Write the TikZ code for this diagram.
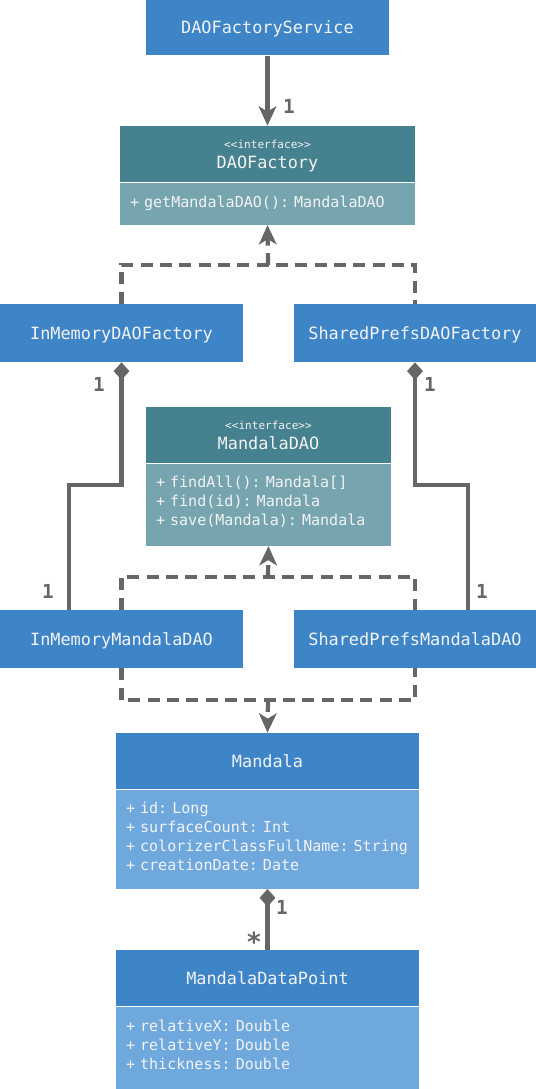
\documentclass[tikz,border=0pt]{standalone}
\usepackage{fontspec}
\setmonofont{DejaVu Sans Mono}
\usetikzlibrary{arrows.meta}
\definecolor{classblue}{HTML}{3D85C6}
\definecolor{fieldblue}{HTML}{6FA8DC}
\definecolor{ifaceteal}{HTML}{45818E}
\definecolor{methodteal}{HTML}{76A5AF}
\definecolor{linegray}{HTML}{666666}
\definecolor{labelwhite}{HTML}{F3F3F3}
\def\namefont{\ttfamily\fontsize{9.6}{11}\selectfont}
\def\memberfont{\ttfamily\frenchspacing\fontsize{8.57}{10.8}\selectfont}
\def\stereo#1{{\ttfamily\fontsize{6.3}{7}\selectfont #1}}
\tikzset{
	classhead/.style={fill=classblue, text=labelwhite, font=\namefont, align=center, inner sep=0pt, minimum width=#1, minimum height=1.12cm, text height=7pt, text depth=0pt},
	ifacehead/.style={fill=ifaceteal, text=labelwhite, font=\namefont, align=center, inner sep=0pt, minimum width=#1, minimum height=1.12cm, text depth=-1.1pt},
	classbody/.style={fill=fieldblue, text=labelwhite, font=\memberfont, align=left, inner ysep=0pt, inner xsep=0.2cm, text width=#1, anchor=north},
	ifacebody/.style={classbody=#1, fill=methodteal},
	link/.style={draw=linegray, line width=2.4pt},
	tip/.style={-{Stealth[length=11pt, width=10pt, inset=3pt]}},
	assoc/.style={link, tip},
	realize/.style={link, dash pattern=on 6.8pt off 4.2pt},
	comp/.style={link, {Diamond[length=10pt, width=9pt]}-},
	mult/.style={text=linegray, font=\ttfamily\bfseries\fontsize{11}{12}\selectfont, inner sep=0pt}
}

\begin{document}
\begin{tikzpicture}[x=0.02cm, y=-0.02cm]
			%%%%% START %%%%%
			\useasboundingbox (0, 0) rectangle (536, 1089);
			
			% service and factory interface
			\node[classhead=4.86cm] (svc) at (267.5, 27.5) {DAOFactoryService};
			\node[ifacehead=5.9cm] (fachead) at (267.5, 154) {\stereo{<<interface>>}\\[0.6pt]DAOFactory};
			\node[ifacebody=5.5cm, minimum height=0.84cm] (facbody) at (fachead.south) {+ getMandalaDAO(): MandalaDAO};
			
			% factories
			\node[classhead=4.86cm, minimum height=1.16cm] (imf) at (121.5, 333) {InMemoryDAOFactory};
			\node[classhead=4.84cm, minimum height=1.16cm] (spf) at (415, 333) {SharedPrefsDAOFactory};
			
			% dao interface
			\node[ifacehead=4.9cm] (daohead) at (268.5, 435) {\stereo{<<interface>>}\\[0.6pt]MandalaDAO};
			\node[ifacebody=4.5cm, minimum height=1.64cm, text height=3pt] (daobody) at (daohead.south) {+ findAll(): Mandala[]\\+ find(id): Mandala\\+ save(Mandala): Mandala};
			
			% daos
			\node[classhead=4.86cm, minimum height=1.16cm] (imd) at (121.5, 639) {InMemoryMandalaDAO};
			\node[classhead=4.84cm, minimum height=1.16cm] (spd) at (415, 639) {SharedPrefsMandalaDAO};
			
			% model
			\node[classhead=6.06cm] (mandhead) at (267.5, 761) {Mandala};
			\node[classbody=5.66cm, minimum height=1.98cm, text height=3pt] (mandbody) at (mandhead.south) {+ id: Long\\+ surfaceCount: Int\\\mbox{+ colorizerClassFullName: String}\\+ creationDate: Date};
			\node[classhead=6.06cm] (mdphead) at (267.5, 978) {MandalaDataPoint};
			\node[classbody=5.66cm, minimum height=1.64cm, text height=3.8pt] (mdpbody) at (mdphead.south) {+ relativeX: Double\\+ relativeY: Double\\+ thickness: Double};
			
			% connectors
			\draw[assoc] (svc) -- (fachead);
			
			\coordinate (facjoin) at (268, 265);
			\draw[realize] (imf.north) |- (facjoin) -| (spf.north);
			\draw[realize, tip] (facjoin) -- (facbody.south);
			
			\coordinate (imbend) at (69, 485);
			\coordinate (spbend) at (468, 485);
			\draw[comp] (imf.south) |- (imbend) -- (imbend |- imd.north);
			\draw[comp] (spf.south) |- (spbend) -- (spbend |- spd.north);
			
			\coordinate (daojoin) at (268, 577);
			\draw[realize] (imd.north) |- (daojoin) -| (spd.north);
			\draw[realize, tip] (daojoin) -- (daobody.south);
			
			\coordinate (mandjoin) at (268, 700);
			\draw[realize] (imd.south) |- (mandjoin) -| (spd.south);
			\draw[realize, tip] (mandjoin) -- (mandhead.north);
			
			\draw[comp] (mandbody) -- (mdphead);
			
			% multiplicities
			\node[mult] (svcmult) at (289, 106) {1};
			\node[mult] (imfmult) at (99, 384) {1};
			\node[mult] (spfmult) at (430, 384) {1};
			\node[mult] (imdmult) at (48, 591) {1};
			\node[mult] (spdmult) at (482, 591) {1};
			\node[mult] (mandmult) at (282, 907) {1};
			\node[mult, font=\ttfamily\bfseries\fontsize{15}{15}\selectfont] (mdpmult) at (254, 942) {*};
			
			%%%%% END %%%%%
\end{tikzpicture}
\end{document}
